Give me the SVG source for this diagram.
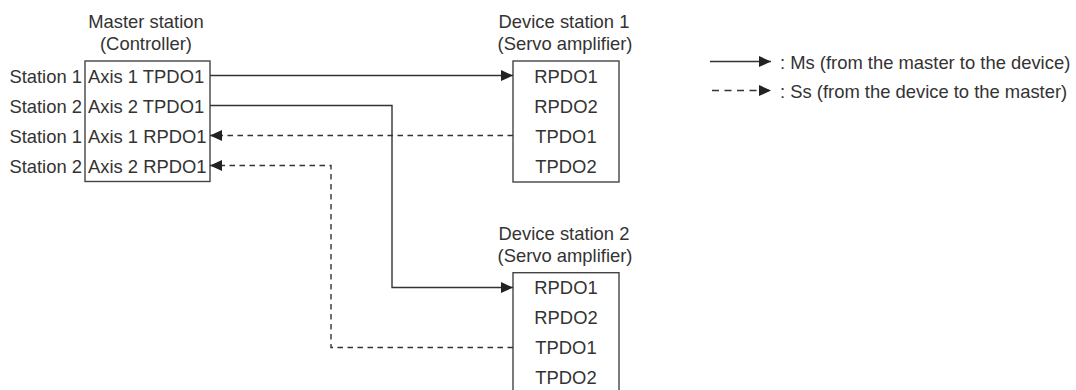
<svg xmlns="http://www.w3.org/2000/svg" width="1076" height="390" viewBox="0 0 1076 390">
<style>
text{font-family:"Liberation Sans",Arial,sans-serif;font-size:18.4px;fill:#333}
.c{text-anchor:middle}
.e{text-anchor:end}
.box{fill:#fff;stroke:#444;stroke-width:1.4}
.ln{fill:none;stroke:#333;stroke-width:1.4}
.d{stroke-dasharray:5.5 4.5}
.dl{stroke-dasharray:7 5.5;stroke-dashoffset:10.5}
</style>
<defs>
<marker id="ah" viewBox="0 0 12 11" refX="12" refY="5.5" markerWidth="12" markerHeight="11" markerUnits="userSpaceOnUse" orient="auto">
<path d="M0,0 L12,5.5 L0,11 Z" fill="#222"/>
</marker>
</defs>
<g id="master">
<text class="c" x="146" y="28">Master station</text>
<text class="c" x="146" y="50">(Controller)</text>
<rect class="box" x="85" y="61" width="125" height="120.5"/>
<text class="e" x="82" y="82.7">Station 1</text>
<text class="e" x="82" y="112.7">Station 2</text>
<text class="e" x="82" y="142.7">Station 1</text>
<text class="e" x="82" y="172.7">Station 2</text>
<text x="88" y="82.7">Axis 1 TPDO1</text>
<text x="88" y="112.7">Axis 2 TPDO1</text>
<text x="88" y="142.7">Axis 1 RPDO1</text>
<text x="88" y="172.7">Axis 2 RPDO1</text>
</g>
<g id="device1">
<text class="c" x="564" y="28">Device station 1</text>
<text class="c" x="565" y="50">(Servo amplifier)</text>
<rect class="box" x="513" y="61" width="106" height="121"/>
<text class="c" x="566" y="82.7">RPDO1</text>
<text class="c" x="566" y="112.7">RPDO2</text>
<text class="c" x="566" y="142.7">TPDO1</text>
<text class="c" x="566" y="172.7">TPDO2</text>
</g>
<g id="device2">
<text class="c" x="564" y="239.7">Device station 2</text>
<text class="c" x="565" y="261.7">(Servo amplifier)</text>
<rect class="box" x="513" y="272.7" width="106" height="121"/>
<text class="c" x="566" y="294.4">RPDO1</text>
<text class="c" x="566" y="324.4">RPDO2</text>
<text class="c" x="566" y="354.4">TPDO1</text>
<text class="c" x="566" y="384.4">TPDO2</text>
</g>
<g id="connectors">
<path class="ln" d="M210,75.5 H513" marker-end="url(#ah)"/>
<path class="ln" d="M210,105.5 H392 V287.5 H513" marker-end="url(#ah)"/>
<path class="ln d" d="M513,135.5 H210" marker-end="url(#ah)"/>
<path class="ln d" d="M513,347.5 H331 V165.5 H210" marker-end="url(#ah)"/>
</g>
<g id="legend">
<path class="ln" d="M710,61.5 H771" marker-end="url(#ah)"/>
<text x="780" y="68.5">: Ms (from the master to the device)</text>
<path class="ln dl" d="M710,90.5 H771" marker-end="url(#ah)"/>
<text x="780" y="97.5">: Ss (from the device to the master)</text>
</g>
</svg>
